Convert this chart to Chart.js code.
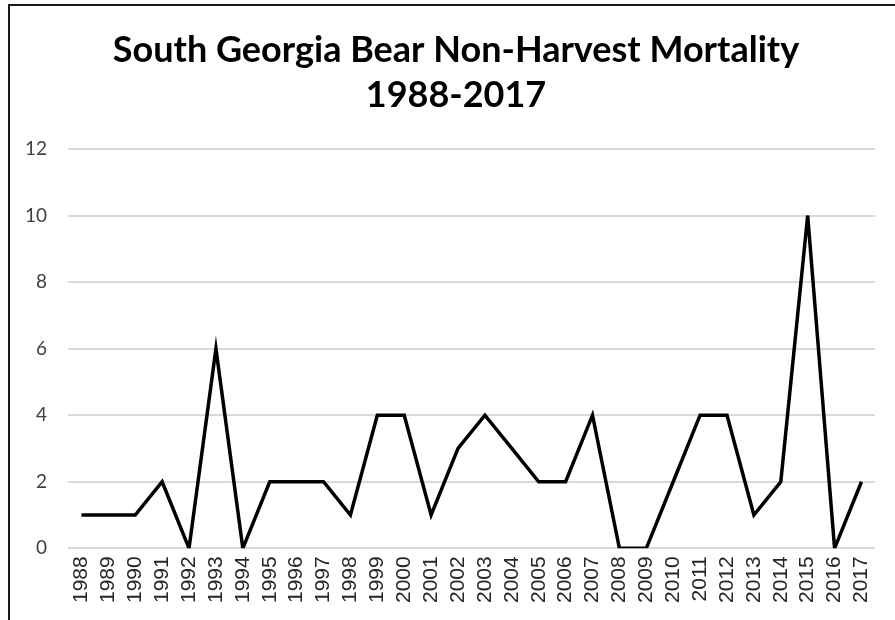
<!DOCTYPE html>
<html>
<head>
<meta charset="utf-8">
<script src="https://cdn.jsdelivr.net/npm/chart.js@4.4.1/dist/chart.umd.min.js"></script>
<style>
  html, body { margin: 0; padding: 0; background: #fff; }
  #myChart { display: block; }
</style>
</head>
<body>
<canvas id="myChart" width="895" height="620"></canvas>
<script>
// years on the x axis
const years = ["1988", "1989", "1990", "1991", "1992", "1993", "1994", "1995", "1996", "1997",
               "1998", "1999", "2000", "2001", "2002", "2003", "2004", "2005", "2006", "2007",
               "2008", "2009", "2010", "2011", "2012", "2013", "2014", "2015", "2016", "2017"];
// non-harvest deaths per year
const mortality = [1, 1, 1, 2, 0, 6, 0, 2, 2, 2,
                   1, 4, 4, 1, 3, 4, 3, 2, 2, 4,
                   0, 0, 2, 4, 4, 1, 2, 10, 0, 2];
const yTicks = [0, 2, 4, 6, 8, 10, 12];
const titleLines = ["South Georgia Bear Non-Harvest Mortality", "1988-2017"];

// white background and the frame lines on the left and top
const frame = {
    id: "frame",
    beforeDraw(chart) {
        const ctx = chart.ctx;
        ctx.save();
        ctx.fillStyle = "#fff";
        ctx.fillRect(0, 0, chart.width, chart.height);
        ctx.strokeStyle = "#1a1a1a";
        ctx.lineWidth = 2;
        ctx.beginPath();
        ctx.moveTo(9, chart.height);
        ctx.lineTo(9, 5);
        ctx.lineTo(chart.width, 5);
        ctx.stroke();
        ctx.restore();
    }
};

const config = {
    type: "line",
    data: {
        labels: years,
        datasets: [{
            label: "Mortality",
            data: mortality,
            borderColor: "#000",
            borderWidth: 3.5,
            pointRadius: 0,
            tension: 0,
            fill: false
        }]
    },
    options: {
        responsive: false,
        animation: false,
        // left/right padding keeps the title centred a bit right of the canvas middle
        layout: { padding: { left: 17, right: 0, top: 20, bottom: 9 } },
        plugins: {
            legend: { display: false },
            tooltip: { enabled: false },
            title: {
                display: true,
                text: titleLines,
                color: "#000",
                font: { family: "Lato", size: 36, weight: "bold", lineHeight: 1.25 },
                padding: { top: 8, bottom: 31 }
            }
        },
        scales: {
            x: {
                offset: true,
                grid: { display: false, drawTicks: false },
                border: { display: false },
                ticks: {
                    color: "#262626",
                    font: { family: "Liberation Sans", size: 21 },
                    maxRotation: 90,
                    minRotation: 90,
                    autoSkip: false,
                    padding: 8
                }
            },
            y: {
                min: 0,
                max: 12,
                afterBuildTicks(scale) {
                    scale.ticks = yTicks.map(v => ({ value: v }));
                },
                afterFit(scale) { scale.width = 51; },
                grid: { color: "#d9d9d9", lineWidth: 2, drawTicks: false },
                border: { display: false },
                ticks: {
                    color: "#404040",
                    font: { family: "Lato", size: 19 },
                    padding: 21
                }
            },
            // empty space to the right of the plot
            spacer: {
                type: "linear",
                position: "right",
                grid: { display: false, drawTicks: false },
                border: { display: false },
                ticks: { display: false },
                afterFit(scale) { scale.width = 19; }
            }
        }
    },
    plugins: [frame]
};

const myChart = new Chart(document.getElementById("myChart"), config);
</script>
</body>
</html>
